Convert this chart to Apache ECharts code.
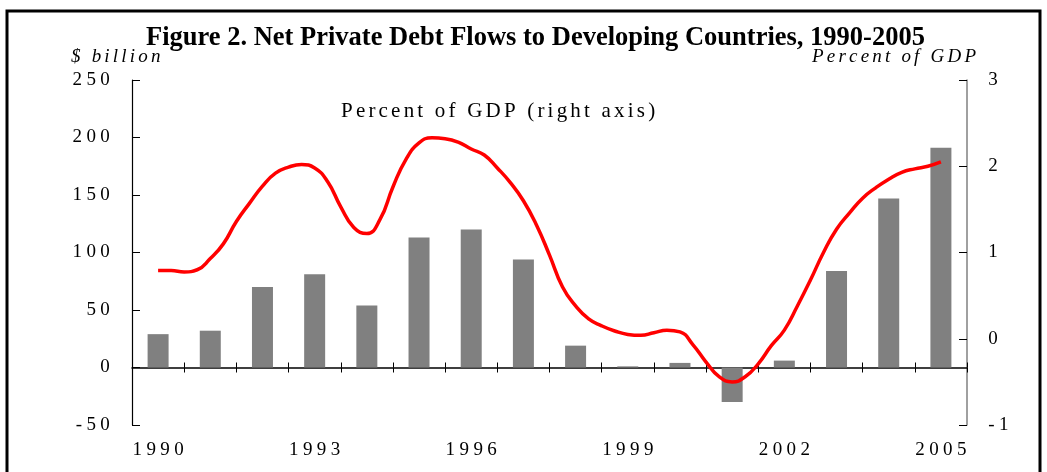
<!DOCTYPE html>
<html>
<head>
<meta charset="utf-8">
<script src="https://cdn.jsdelivr.net/npm/echarts@6/dist/echarts.min.js"></script>
<style>
html, body { margin: 0; padding: 0; background: #fff; }
#container { width: 1047px; height: 472px; }
</style>
</head>
<body>
<div id="container"></div>
<script>
// years on the axis
let years = ['1990','1991','1992','1993','1994','1995','1996','1997','1998','1999','2000','2001','2002','2003','2004','2005'];
// net private debt flows, $ billion (bars, left axis)
let debtFlows = [29, 32, 70, 81, 54, 113, 120, 94, 19, 1, 4, -30, 6, 84, 147, 191];
// percent of GDP (red line, right axis)
let gdpTime = [1990.0,1990.25,1990.5,1990.75,1991.0,1991.25,1991.5,1991.75,1992.0,1992.25,1992.5,1992.75,
    1993.0,1993.25,1993.5,1993.75,1994.0,1994.25,1994.5,1994.75,1995.0,1995.25,1995.5,1995.75,
    1996.0,1996.25,1996.5,1996.75,1997.0,1997.25,1997.5,1997.75,1998.0,1998.25,1998.5,1998.75,
    1999.0,1999.25,1999.5,1999.75,2000.0,2000.25,2000.5,2000.75,2001.0,2001.25,2001.5,2001.75,
    2002.0,2002.25,2002.5,2002.75,2003.0,2003.25,2003.5,2003.75,2004.0,2004.25,2004.5,2004.75,2005.0];
let gdpPct = [0.79,0.79,0.775,0.80,0.93,1.10,1.36,1.57,1.77,1.92,1.99,2.02,
    1.98,1.82,1.53,1.29,1.22,1.38,1.76,2.08,2.27,2.33,2.32,2.28,
    2.20,2.13,1.98,1.81,1.60,1.32,0.97,0.60,0.38,0.23,0.15,0.09,
    0.05,0.04,0.07,0.10,0.08,-0.07,-0.27,-0.44,-0.50,-0.44,-0.29,-0.08,
    0.10,0.38,0.68,1.00,1.27,1.46,1.63,1.75,1.85,1.93,1.97,2.00,2.05];
// tick labels
let leftTicks = [-50, 0, 50, 100, 150, 200, 250];
let rightTicks = [-1, 0, 1, 2, 3];

let serif = '"Liberation Serif", "Times New Roman", serif';

// the original uses widely spaced letters, so each char gets its own rich token
function spaced(str, style) {
    return String(str).split('').map(function(c) { return '{' + style + '|' + c + '}'; }).join('');
}

let gdpLine = [];
for (let i = 0; i < gdpTime.length; i++) {
    gdpLine.push([gdpTime[i], gdpPct[i]]);
}

let richStyles = {
    t: { fontFamily: serif, fontSize: 19, color: '#000', padding: [0, 2.2, 0, 2.2] },
    a: { fontFamily: serif, fontSize: 21, color: '#000', padding: [0, 1.6, 0, 1.6] },
    n: { fontFamily: serif, fontSize: 19, fontStyle: 'italic', color: '#000', padding: [0, 1.6, 0, 1.6] }
};

let dom = document.getElementById('container');
let myChart = echarts.init(dom, null, { renderer: 'canvas' });

let option = {
    animation: false,
    backgroundColor: '#fff',
    title: {
        text: 'Figure 2. Net Private Debt Flows to Developing Countries, 1990-2005',
        left: 141,
        top: 20,
        textStyle: { fontFamily: serif, fontWeight: 'bold', fontSize: 26.5, color: '#000' }
    },
    graphic: [
        {   // frame round the figure
            type: 'rect',
            shape: { x: 7, y: 11, width: 1033, height: 480 },
            style: { fill: null, stroke: '#000', lineWidth: 3 },
            silent: true
        },
        {
            type: 'text',
            left: 71, top: 47,
            style: { text: spaced('$ billion', 'n'), rich: richStyles }
        },
        {
            type: 'text',
            right: 71, top: 47,
            style: { text: spaced('Percent of GDP', 'n'), rich: richStyles }
        },
        {
            type: 'text',
            left: 341, top: 101,
            style: { text: spaced('Percent of GDP (right axis)', 'a'), rich: richStyles }
        }
    ],
    grid: { left: 132, right: 80, top: 80, bottom: 47, containLabel: false },
    xAxis: [
        {   // labels at the bottom
            type: 'category',
            data: years,
            position: 'bottom',
            axisLine: { show: false },
            axisTick: { show: false },
            axisLabel: {
                interval: 2,
                margin: 16,
                formatter: function(v) { return spaced(v, 't'); },
                rich: richStyles
            }
        },
        {   // zero line with ticks crossing it (upper half)
            type: 'category',
            data: years,
            position: 'bottom',
            axisLine: { show: true, onZero: true, onZeroAxisIndex: 0, lineStyle: { color: '#000', width: 1.5 } },
            axisTick: { show: true, inside: true, length: 5, interval: 0, lineStyle: { color: '#000', width: 1 } },
            axisLabel: { show: false }
        },
        {   // lower half of the ticks
            type: 'category',
            data: years,
            position: 'bottom',
            axisLine: { show: false, onZero: true, onZeroAxisIndex: 0 },
            axisTick: { show: true, inside: false, length: 5, interval: 0, lineStyle: { color: '#000', width: 1 } },
            axisLabel: { show: false }
        },
        {   // continuous time for the line
            type: 'value',
            min: 1989.5,
            max: 2005.5,
            show: false
        }
    ],
    yAxis: [
        {
            type: 'value',
            min: leftTicks[0],
            max: leftTicks[leftTicks.length - 1],
            interval: 50,
            position: 'left',
            axisLine: { show: true, lineStyle: { color: '#000', width: 1.2 } },
            axisTick: { show: true, inside: true, length: 8, lineStyle: { color: '#000' } },
            splitLine: { show: false },
            axisLabel: {
                margin: 20,
                formatter: function(v) { return spaced(v, 't'); },
                rich: richStyles
            }
        },
        {
            type: 'value',
            min: rightTicks[0],
            max: rightTicks[rightTicks.length - 1],
            interval: 1,
            position: 'right',
            axisLine: { show: true, lineStyle: { color: '#808080', width: 1.5 } },
            axisTick: { show: true, inside: true, length: 8, lineStyle: { color: '#000' } },
            splitLine: { show: false },
            axisLabel: {
                margin: 19,
                formatter: function(v) { return spaced(v, 't'); },
                rich: richStyles
            }
        }
    ],
    series: [
        {
            name: '$ billion',
            type: 'bar',
            xAxisIndex: 0,
            yAxisIndex: 0,
            data: debtFlows,
            barWidth: 21,
            itemStyle: { color: '#808080' },
            z: 2
        },
        {
            name: 'Percent of GDP',
            type: 'line',
            xAxisIndex: 3,
            yAxisIndex: 1,
            data: gdpLine,
            smooth: true,
            showSymbol: false,
            lineStyle: { color: '#ff0000', width: 3.5 },
            z: 5
        }
    ]
};

if (option && typeof option === 'object') {
    myChart.setOption(option, true);
}
</script>
</body>
</html>
